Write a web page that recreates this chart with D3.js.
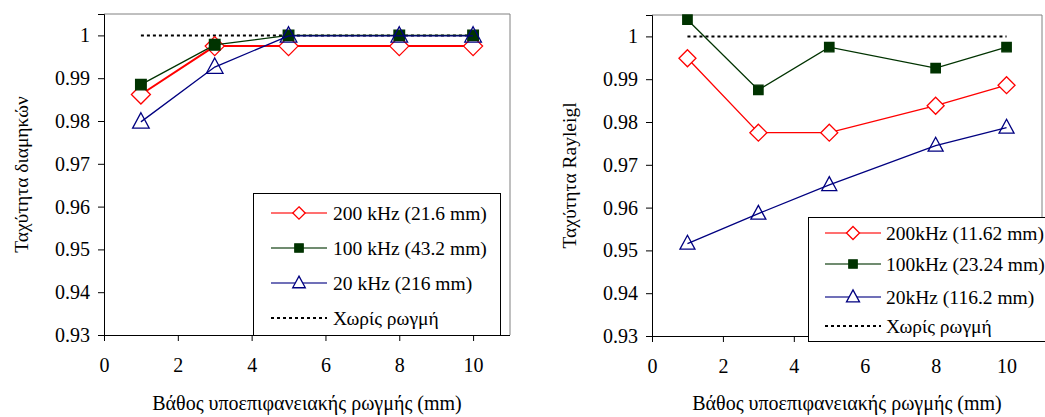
<!DOCTYPE html>
<html>
<head>
<meta charset="utf-8">
<script src="https://cdn.jsdelivr.net/npm/d3@7"></script>
<style>
  body { margin: 0; background: #fff; }
  svg { display: block; font-family: "Liberation Serif", "DejaVu Serif", serif; }
</style>
</head>
<body>
<svg id="chart" width="1045" height="417"></svg>
<script>
// ---------------------------------------------------------------
//  Data
// ---------------------------------------------------------------

// Crack depth (mm)
const depths = [1, 3, 5, 8, 10];

// Left panel: longitudinal wave velocity (normalised)
const long200 = [0.9862, 0.9975, 0.9975, 0.9975, 0.9975];
const long100 = [0.9885, 0.9978, 1.0, 1.0, 1.0];
const long20  = [0.9798, 0.9926, 0.9999, 0.9999, 0.9999];

// Right panel: Rayleigh wave velocity (normalised)
const ray200 = [0.9949, 0.9775, 0.9775, 0.9838, 0.9886];
const ray100 = [1.0039, 0.9875, 0.9975, 0.9926, 0.9975];
const ray20  = [0.9516, 0.9586, 0.9653, 0.9745, 0.9787];

// Reference without crack
const noCrackDepths = [1, 10];
const noCrack = [1, 1];

const xTicks = [0, 2, 4, 6, 8, 10];
const yTicks = [0.93, 0.94, 0.95, 0.96, 0.97, 0.98, 0.99, 1];

const leftLabels  = ["200 kHz (21.6 mm)", "100 kHz (43.2 mm)", "20 kHz (216 mm)", "Χωρίς ρωγμή"];
const rightLabels = ["200kHz (11.62 mm)", "100kHz (23.24 mm)", "20kHz (116.2 mm)", "Χωρίς ρωγμή"];

const xTitle = "Βάθος υποεπιφανειακής ρωγμής (mm)";

// ---------------------------------------------------------------
//  Drawing
// ---------------------------------------------------------------

const svg = d3.select("#chart");
const serif = "Liberation Serif, DejaVu Serif, serif";

// Marker shapes, centred on (0,0)
function markerPath(type, s) {
    if (type === "diamond") return `M0,${-s}L${s},0L0,${s}L${-s},0Z`;
    if (type === "square") return `M${-s},${-s}H${s}V${s}H${-s}Z`;
    // triangle
    return `M0,${-s * 1.1}L${s},${s * 0.75}L${-s},${s * 0.75}Z`;
}

const styles = [
    { color: "#ff0000", marker: "diamond", fill: "#fff" },
    { color: "#003300", marker: "square", fill: "#003300" },
    { color: "#000080", marker: "triangle", fill: "none" }
];

function drawPanel(cfg) {

    const x = d3.scaleLinear().domain([0, 11]).range([cfg.left, cfg.right]);
    const y = d3.scaleLinear().domain([0.93, 1.005]).range([cfg.bottom, cfg.top]);

    const g = svg.append("g");

    // Plot area frame (top and right in grey)
    g.append("path")
        .attr("d", `M${cfg.left},${cfg.top}H${cfg.right}V${cfg.bottom}`)
        .attr("fill", "none")
        .attr("stroke", "#808080")
        .attr("stroke-width", 1);

    // Axes
    const xAxis = g.append("g")
        .attr("transform", `translate(0,${cfg.bottom})`)
        .call(d3.axisBottom(x).tickValues(xTicks).tickSize(6).tickPadding(17).tickFormat(d3.format("d")));
    const yAxis = g.append("g")
        .attr("transform", `translate(${cfg.left},0)`)
        .call(d3.axisLeft(y).tickValues(yTicks).tickSize(6).tickPadding(8)
            .tickFormat(d => d === 1 ? "1" : d.toFixed(2)));

    [xAxis, yAxis].forEach(a => {
        a.attr("font-family", serif);
        a.select(".domain").attr("stroke", "#000");
        a.selectAll(".tick line").attr("stroke", "#000");
        a.selectAll(".tick text")
            .attr("fill", "#000")
            .attr("font-size", 20);
    });
    // x axis line spans full plot width
    xAxis.select(".domain").attr("d", `M${cfg.left},0.5H${cfg.right}`);

    // Axis titles
    g.append("text")
        .attr("x", (cfg.left + cfg.right) / 2)
        .attr("y", 410)
        .attr("text-anchor", "middle")
        .attr("font-size", 20)
        .text(xTitle);
    g.append("text")
        .attr("transform", `translate(${cfg.yTitleX},${(cfg.top + cfg.bottom) / 2}) rotate(-90)`)
        .attr("text-anchor", "middle")
        .attr("font-size", 19.5)
        .text(cfg.yTitle);

    // No-crack reference (dotted)
    const line = d3.line().x(d => x(d[0])).y(d => y(d[1]));
    g.append("path")
        .datum(d3.zip(noCrackDepths, noCrack))
        .attr("d", line)
        .attr("fill", "none")
        .attr("stroke", "#000")
        .attr("stroke-width", 2)
        .attr("stroke-dasharray", "3,3");

    // Series
    cfg.series.forEach((vals, i) => {
        const st = styles[i];
        const pts = d3.zip(depths, vals);
        g.append("path")
            .datum(pts)
            .attr("d", line)
            .attr("fill", "none")
            .attr("stroke", st.color)
            .attr("stroke-width", cfg.lineWidths[i]);
        g.selectAll(null)
            .data(pts)
            .join("path")
                .attr("transform", d => `translate(${x(d[0])},${y(d[1])})`)
                .attr("d", markerPath(st.marker, cfg.markerSizes[i]))
                .attr("fill", st.fill)
                .attr("stroke", st.color)
                .attr("stroke-width", 1.3);
    });

    // Legend
    const lg = cfg.legend;
    g.append("rect")
        .attr("x", lg.x + 0.5).attr("y", lg.y + 0.5)
        .attr("width", lg.w).attr("height", lg.h)
        .attr("fill", "#fff")
        .attr("stroke", "#000")
        .attr("stroke-width", 1);

    cfg.labels.forEach((lab, i) => {
        const ry = lg.rows[i];
        const row = g.append("g");
        if (i < 3) {
            const st = styles[i];
            row.append("line")
                .attr("x1", lg.lineX[0]).attr("x2", lg.lineX[1])
                .attr("y1", ry).attr("y2", ry)
                .attr("stroke", st.color)
                .attr("stroke-opacity", 0.75)
                .attr("stroke-width", 1.5);
            row.append("path")
                .attr("transform", `translate(${(lg.lineX[0] + lg.lineX[1]) / 2},${ry})`)
                .attr("d", markerPath(st.marker, lg.markerSizes[i]))
                .attr("fill", st.fill === "none" ? "#fff" : st.fill)
                .attr("stroke", st.color)
                .attr("stroke-width", 1.3);
        } else {
            row.append("line")
                .attr("x1", lg.lineX[0]).attr("x2", lg.lineX[1])
                .attr("y1", ry).attr("y2", ry)
                .attr("stroke", "#000")
                .attr("stroke-width", 2)
                .attr("stroke-dasharray", "3,3");
        }
        row.append("text")
            .attr("x", lg.textX)
            .attr("y", ry)
            .attr("dy", "0.35em")
            .attr("font-size", 19.5)
            .text(lab);
    });
}

drawPanel({
    left: 104, right: 510, top: 14, bottom: 335,
    yTitle: "Ταχύτητα διαμηκών", yTitleX: 28,
    series: [long200, long100, long20],
    lineWidths: [2, 1.3, 1.3],
    markerSizes: [9.5, 5.3, 8.3],
    labels: leftLabels,
    legend: {
        x: 253, y: 193, w: 247, h: 142,
        rows: [213, 248, 283, 318],
        lineX: [271, 327], textX: 333,
        markerSizes: [6.2, 4.2, 6.3]
    }
});

drawPanel({
    left: 652, right: 1042, top: 15, bottom: 336,
    yTitle: "Ταχύτητα Rayleigl", yTitleX: 576,
    series: [ray200, ray100, ray20],
    lineWidths: [1.3, 1.3, 1.3],
    markerSizes: [8.5, 4.7, 7.5],
    labels: rightLabels,
    legend: {
        x: 808, y: 217, w: 245, h: 124,
        rows: [233, 264, 297, 326],
        lineX: [825, 881], textX: 886,
        markerSizes: [6.5, 4.2, 6.5]
    }
});
</script>
</body>
</html>
